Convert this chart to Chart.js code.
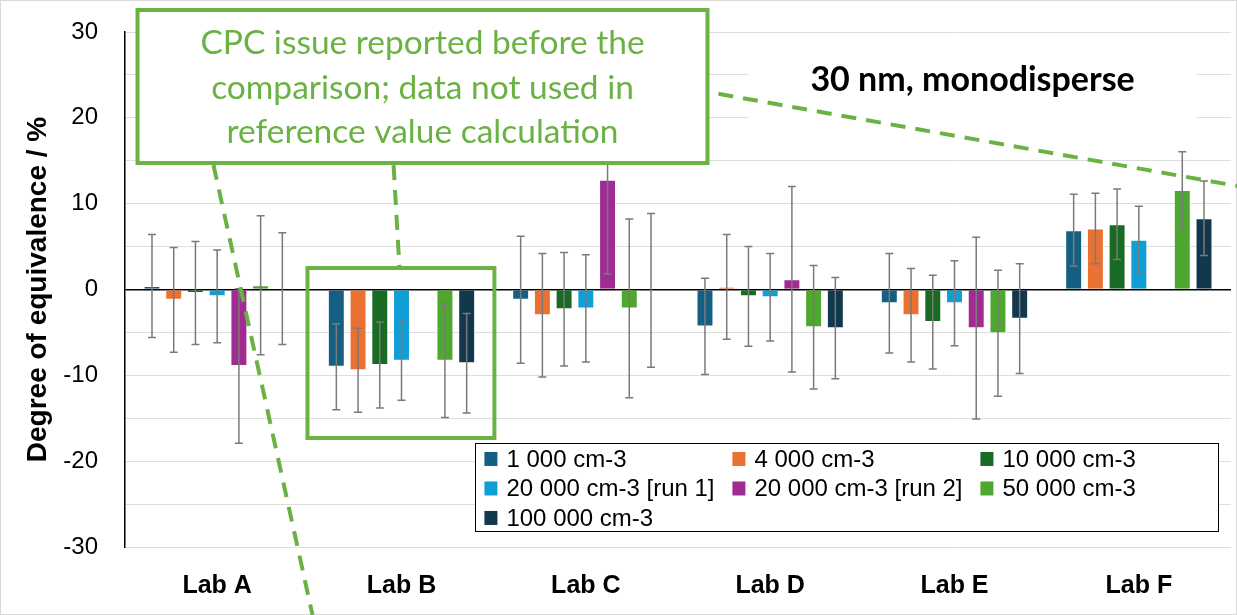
<!DOCTYPE html>
<html>
<head>
<meta charset="utf-8">
<script src="https://cdn.jsdelivr.net/npm/chart.js@4/dist/chart.umd.min.js"></script>
<style>
  html, body { margin: 0; padding: 0; background: #fff; }
  #wrap { width: 1237px; height: 615px; position: relative; }
</style>
</head>
<body>
<div id="wrap"><canvas id="doeChart" width="1237" height="615"></canvas></div>
<script>
// categories and series (degree of equivalence, %)
const labs = ['Lab A', 'Lab B', 'Lab C', 'Lab D', 'Lab E', 'Lab F'];
const seriesNames = ['1 000 cm-3', '4 000 cm-3', '10 000 cm-3', '20 000 cm-3 [run 1]', '20 000 cm-3 [run 2]', '50 000 cm-3', '100 000 cm-3'];
const seriesColors = ['#156082', '#E97132', '#196B24', '#0F9ED5', '#A02B93', '#4EA72E', '#12384E'];

const conc1k   = [0.4, -9.0, -1.2, -4.3, -1.6, 6.9];
const conc4k   = [-1.2, -9.4, -3.0, 0.3, -3.0, 7.1];
const conc10k  = [-0.4, -8.8, -2.3, -0.8, -3.8, 7.6];
const conc20kA = [-0.8, -8.3, -2.2, -0.9, -1.6, 5.8];
const conc20kB = [-8.9, null, 12.8, 1.2, -4.5, null];
const conc50k  = [0.5, -8.3, -2.2, -4.4, -5.1, 11.6];
const conc100k = [0.1, -8.6, -0.1, -4.5, -3.4, 8.3];

// expanded uncertainties (+/-)
const err1k   = [6.0, 5.0, 7.4, 5.6, 5.8, 4.2];
const err4k   = [6.1, 4.9, 7.2, 6.1, 5.45, 4.1];
const err10k  = [6.0, 5.0, 6.6, 5.8, 5.45, 4.1];
const err20kA = [5.4, 4.6, 6.25, 5.1, 4.95, 3.9];
const err20kB = [9.0, null, 11.0, 10.8, 10.6, null];
const err50k  = [8.1, 6.6, 10.4, 7.2, 7.35, 4.45];
const err100k = [6.5, 5.8, 8.95, 5.9, 6.4, 4.35];

const yTicks = [-30, -20, -10, 0, 10, 20, 30];

const values = [conc1k, conc4k, conc10k, conc20kA, conc20kB, conc50k, conc100k];
const errors = [err1k, err4k, err10k, err20kA, err20kB, err50k, err100k];

const GREEN = '#6AB244';
const ARIAL = "'Liberation Sans', Arial, sans-serif";

// error bars drawn from each bar element's position
const errorBars = {
    id: 'errorBars',
    afterDatasetsDraw(chart) {
        const ctx = chart.ctx;
        const y = chart.scales.y;
        ctx.save();
        ctx.strokeStyle = '#7a7a7a';
        ctx.lineWidth = 1.5;
        chart.data.datasets.forEach((ds, di) => {
            const meta = chart.getDatasetMeta(di);
            meta.data.forEach((bar, i) => {
                const v = ds.data[i];
                const e = errors[di][i];
                if (v == null || e == null) return;
                const top = y.getPixelForValue(v + e);
                const bot = y.getPixelForValue(v - e);
                ctx.beginPath();
                ctx.moveTo(bar.x, top); ctx.lineTo(bar.x, bot);
                ctx.moveTo(bar.x - 4, top); ctx.lineTo(bar.x + 4, top);
                ctx.moveTo(bar.x - 4, bot); ctx.lineTo(bar.x + 4, bot);
                ctx.stroke();
            });
        });
        ctx.restore();
    }
};

// callouts, title and legend
const overlays = {
    id: 'overlays',
    afterDraw(chart) {
        const ctx = chart.ctx;
        const sx = chart.scales.x, sy = chart.scales.y;
        const px = v => sx.getPixelForValue(v);
        const py = v => sy.getPixelForValue(v);
        ctx.save();

        // outer frame
        ctx.strokeStyle = '#d9d9d9';
        ctx.lineWidth = 1;
        ctx.strokeRect(0.5, 0.5, chart.width - 1, chart.height - 1);

        // title box
        ctx.fillStyle = '#fff';
        ctx.fillRect(px(2.882), py(28.5), px(5.313) - px(2.882), py(17.4) - py(28.5));
        ctx.fillStyle = '#000';
        ctx.font = "bold 34px Lato, 'Open Sans', sans-serif";
        ctx.textAlign = 'center';
        ctx.textBaseline = 'middle';
        ctx.fillText('30 nm, monodisperse', px(4.098), py(24.4));

        // dashed leader lines
        ctx.strokeStyle = GREEN;
        ctx.lineWidth = 4;
        ctx.setLineDash([15, 10]);
        const dash = (x1, y1, x2, y2) => {
            ctx.beginPath();
            ctx.moveTo(px(x1), py(y1));
            ctx.lineTo(px(x2), py(y2));
            ctx.stroke();
        };
        dash(-0.02, 14.5, 0.517, -37.9);
        dash(0.957, 14.5, 0.989, 2.5);
        dash(2.719, 22.8, 5.535, 12.06);
        ctx.setLineDash([]);

        // Lab B highlight box
        ctx.strokeRect(px(0.49), py(2.5), px(1.504) - px(0.49), py(-17.3) - py(2.5));

        // callout box
        const bx = px(-0.432), by = py(32.56);
        const bw = px(2.66) - bx, bh = py(14.74) - by;
        ctx.fillStyle = '#fff';
        ctx.fillRect(bx, by, bw, bh);
        ctx.strokeRect(bx, by, bw, bh);
        ctx.fillStyle = GREEN;
        ctx.font = "33.5px Lato, 'Open Sans', sans-serif";
        ctx.fillText('CPC issue reported before the', px(1.114), py(28.72));
        ctx.fillText('comparison; data not used in', px(1.114), py(23.48));
        ctx.fillText('reference value calculation', px(1.114), py(18.35));

        // legend
        const lx = px(1.401), ly = py(-17.88);
        const lw = px(5.432) - lx, lh = py(-28.14) - ly;
        ctx.fillStyle = '#fff';
        ctx.fillRect(lx, ly, lw, lh);
        ctx.strokeStyle = '#000';
        ctx.lineWidth = 1;
        ctx.strokeRect(Math.round(lx) + 0.5, Math.round(ly) + 0.5, Math.round(lw), Math.round(lh));
        const colX = [9, 257, 505];
        const rowY = [16, 45.5, 75];
        ctx.font = '24px ' + ARIAL;
        ctx.textAlign = 'left';
        chart.data.datasets.forEach((ds, i) => {
            const cx = lx + colX[i % 3];
            const cy = ly + rowY[Math.floor(i / 3)];
            ctx.fillStyle = ds.backgroundColor;
            ctx.fillRect(cx, cy - 7, 13, 14);
            ctx.fillStyle = '#000';
            ctx.fillText(ds.label, cx + 22, cy + 1);
        });
        ctx.restore();
    }
};

const datasets = seriesNames.map((name, i) => ({
    label: name,
    data: values[i],
    backgroundColor: seriesColors[i],
    borderColor: 'rgba(255,255,255,0.35)',
    borderWidth: 1,
    categoryPercentage: 0.825,
    barPercentage: 0.78
}));

new Chart(document.getElementById('doeChart'), {
    type: 'bar',
    data: { labels: labs, datasets: datasets },
    options: {
        responsive: false,
        animation: false,
        devicePixelRatio: 1,
        layout: { padding: { top: 32, right: 6, left: 0, bottom: 0 } },
        plugins: {
            legend: { display: false },
            tooltip: { enabled: false }
        },
        scales: {
            x: {
                grid: { display: false },
                border: { display: false },
                ticks: {
                    color: '#000',
                    padding: 16,
                    font: { family: ARIAL, size: 25, weight: 'bold' }
                },
                afterFit(scale) { scale.height = 68; }
            },
            y: {
                min: -30,
                max: 30,
                ticks: {
                    stepSize: 5,
                    color: '#000',
                    padding: 4,
                    font: { family: ARIAL, size: 24 },
                    callback: v => (yTicks.includes(v) ? String(v) : '')
                },
                grid: {
                    color: ctx => (ctx.tick && ctx.tick.value === 0 ? '#000' : '#dedede'),
                    lineWidth: ctx => (ctx.tick && ctx.tick.value === 0 ? 1.5 : 1),
                    drawTicks: true,
                    tickLength: 23,
                    tickColor: 'rgba(0,0,0,0)'
                },
                border: { display: true, color: '#000', width: 1.5 },
                title: {
                    display: true,
                    text: 'Degree of equivalence / %',
                    color: '#000',
                    font: { family: ARIAL, size: 28, weight: 'bold' },
                    padding: { top: 21, bottom: 0 }
                },
                afterFit(scale) { scale.width = 125; }
            }
        }
    },
    plugins: [errorBars, overlays]
});
</script>
</body>
</html>
